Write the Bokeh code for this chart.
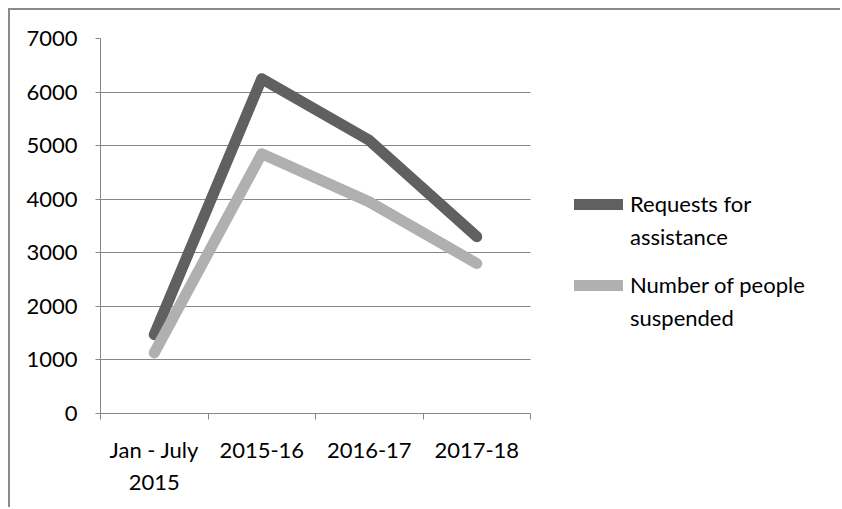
from bokeh.plotting import figure
from bokeh.models import (ColumnDataSource, FixedTicker, Legend, LegendItem,
                          Range1d)
from bokeh.embed import file_html
from bokeh.resources import INLINE

categories = ["Jan - July\n2015", "2015-16", "2016-17", "2017-18"]
requests = [1470, 6250, 5100, 3300]
suspended = [1130, 4850, 3950, 2800]
y_ticks = [0, 1000, 2000, 3000, 4000, 5000, 6000, 7000]
legend_lines = [["Requests for", "assistance"], ["Number of people", "suspended"]]

xpos = [i + 0.5 for i in range(len(categories))]
src = ColumnDataSource(dict(x=xpos, req=requests, sus=suspended))

FONT = "Lato"
GRID = "#878787"
W, H = 832, 499
LEFT, TOP, BOTTOM = 90, 28, 96
AXIS_PX = 430  # visible width of the category axis
frame_px = W - LEFT
n = len(categories)

p = figure(width=W, height=H, output_backend="svg", toolbar_location=None,
           x_range=Range1d(0, n * frame_px / AXIS_PX), y_range=Range1d(0, 7000),
           min_border_left=LEFT, min_border_right=0, min_border_top=TOP,
           min_border_bottom=BOTTOM)
p.styles = {"margin-left": "8px", "margin-top": "8px",
            "border-top": "2px solid #8a8a8a", "border-left": "2px solid #8a8a8a"}
p.outline_line_color = None
p.background_fill_color = "white"
p.border_fill_color = "white"

r1 = p.line("x", "req", source=src, line_color="#606060", line_width=11,
            line_cap="round", line_join="round")
r2 = p.line("x", "sus", source=src, line_color="#b0b0b0", line_width=11,
            line_cap="round", line_join="round")

# x axis: ticks at category boundaries, labels at centres
p.xaxis.bounds = (0, n)
p.xaxis.ticker = FixedTicker(ticks=xpos, minor_ticks=list(range(n + 1)))
p.xaxis.major_label_overrides = {x: c for x, c in zip(xpos, categories)}
p.xaxis.major_tick_line_color = None
p.xaxis.major_tick_in = 0
p.xaxis.major_tick_out = 0
p.xaxis.minor_tick_in = 0
p.xaxis.minor_tick_out = 6
p.xaxis.minor_tick_line_color = GRID
p.xaxis.axis_line_color = GRID
p.xaxis.major_label_standoff = 16
p.xaxis.major_label_text_font = FONT
p.xaxis.major_label_text_font_size = "22px"
p.xaxis.major_label_text_color = "black"

p.yaxis.ticker = FixedTicker(ticks=y_ticks)
p.yaxis.minor_tick_line_color = None
p.yaxis.major_tick_in = 0
p.yaxis.major_tick_out = 5
p.yaxis.major_tick_line_color = GRID
p.yaxis.axis_line_color = GRID
p.yaxis.major_label_standoff = 18
p.yaxis.major_label_text_font = FONT
p.yaxis.major_label_text_font_size = "22px"
p.yaxis.major_label_text_color = "black"

p.xgrid.grid_line_color = None
p.ygrid.grid_line_color = GRID
p.ygrid.grid_line_width = 1
p.ygrid.cross_bounds = (0, n)


def make_legend(renderer, lines, loc):
    items = [LegendItem(label=lines[0], renderers=[renderer]),
             LegendItem(label=lines[1], renderers=[])]
    lg = Legend(items=items, location=loc)
    lg.border_line_color = None
    lg.background_fill_alpha = 0
    lg.label_text_font = FONT
    lg.label_text_font_size = "22px"
    lg.label_text_color = "black"
    lg.glyph_width = 49
    lg.glyph_height = 26
    lg.label_standoff = 7
    lg.spacing = 6
    lg.padding = 0
    lg.margin = 0
    return lg


p.add_layout(make_legend(r1, legend_lines[0], (474, 163)), "center")
p.add_layout(make_legend(r2, legend_lines[1], (474, 82)), "center")

open("out.html", "w").write(file_html(p, INLINE))
